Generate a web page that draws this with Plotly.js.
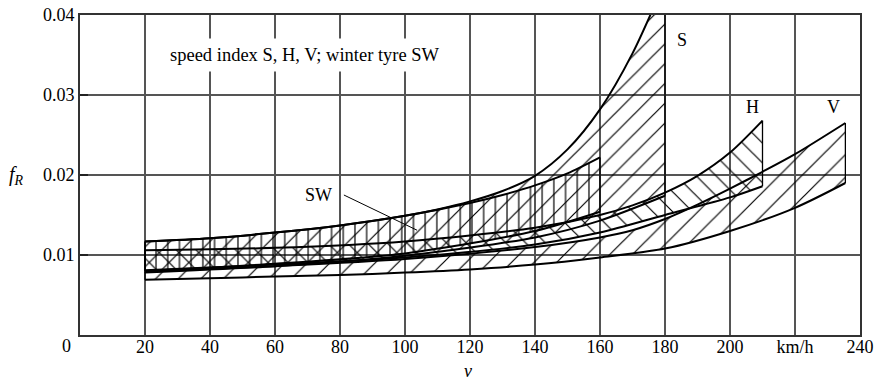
<!DOCTYPE html>
<html>
<head>
<meta charset="utf-8">
<script src="https://cdn.plot.ly/plotly-3.0.1.min.js"></script>
<style>html,body{margin:0;padding:0;background:#fff}#chart{width:878px;height:382px}</style>
</head>
<body>
<div id="chart"></div>
<script>
// ---- data (v in km/h, f_R) ----
const V_lo_v = [20, 40, 60, 80, 100, 120, 140, 160, 180, 200, 220, 235.5];
const V_lo_f = [0.0069, 0.0071, 0.0073, 0.0075, 0.0078, 0.0082, 0.0088, 0.0097, 0.0108, 0.0130, 0.0159, 0.0190];
const V_up_v = [20, 60, 100, 140, 160, 170, 180, 190, 200, 210, 220, 235.5];
const V_up_f = [0.0079, 0.0086, 0.0095, 0.0110, 0.0122, 0.0131, 0.0145, 0.0163, 0.0183, 0.0204, 0.0226, 0.0265];

const H_lo_v = [20, 60, 100, 140, 160, 180, 200, 210];
const H_lo_f = [0.0081, 0.0088, 0.0097, 0.0113, 0.0128, 0.0150, 0.0172, 0.0186];
const H_up_v = [20, 60, 100, 140, 160, 170, 180, 190, 200, 210];
const H_up_f = [0.0106, 0.0109, 0.0117, 0.0134, 0.0150, 0.0162, 0.0178, 0.0199, 0.0228, 0.0268];

const S_lo_v = [20, 60, 100, 140, 160, 180];
const S_lo_f = [0.0078, 0.0086, 0.0099, 0.0122, 0.0143, 0.0174];
const S_up_v = [20, 40, 60, 80, 100, 110, 120, 130, 140, 150, 160, 170, 180];
const S_up_f = [0.0117, 0.0121, 0.0128, 0.0137, 0.0149, 0.0157, 0.0167, 0.0180, 0.0199, 0.0232, 0.0282, 0.0352, 0.0442];

const SW_lo_v = [20, 60, 100, 140, 160];
const SW_lo_f = [0.0080, 0.0089, 0.0102, 0.0130, 0.0154];
const SW_up_v = [20, 40, 60, 80, 100, 120, 130, 140, 150, 160];
const SW_up_f = [0.0117, 0.0121, 0.0128, 0.0137, 0.0149, 0.0165, 0.0175, 0.0187, 0.0202, 0.0222];

const xTickVals = [20, 40, 60, 80, 100, 120, 140, 160, 180, 200, 220, 240];
const xTickText = ['20', '40', '60', '80', '100', '120', '140', '160', '180', '200', 'km/h', '240'];
const yTickVals = [0.01, 0.02, 0.03, 0.04];
const yTickText = ['0.01', '0.02', '0.03', '0.04'];

// ---- build traces ----
const FONT = 'Liberation Serif, Times New Roman, serif';
const traces = [];
function band(loV, loF, upV, upF, shape, size, clipTop) {
  traces.push({x: loV, y: loF, mode: 'lines', line: {color: '#000', width: 2, shape: 'spline', smoothing: 0.8},
    hoverinfo: 'skip', showlegend: false});
  traces.push({x: upV, y: upF, mode: 'lines', line: {color: '#000', width: 2, shape: 'spline', smoothing: 0.8},
    fill: 'tonexty', fillcolor: 'rgba(0,0,0,0)',
    fillpattern: {shape: shape, size: size, solidity: 1.2 / size, fgcolor: '#000', bgcolor: 'rgba(0,0,0,0)', fillmode: 'replace'},
    hoverinfo: 'skip', showlegend: false});
  const xe = loV[loV.length - 1];
  const yTop = clipTop ? clipTop : upF[upF.length - 1];
  traces.push({x: [xe, xe], y: [loF[loF.length - 1], yTop], mode: 'lines', line: {color: '#000', width: 1.3},
    hoverinfo: 'skip', showlegend: false});
  traces.push({x: [loV[0], upV[0]], y: [loF[0], upF[0]], mode: 'lines', line: {color: '#000', width: 1.3},
    hoverinfo: 'skip', showlegend: false});
}
band(V_lo_v, V_lo_f, V_up_v, V_up_f, '/', 16, null);
band(H_lo_v, H_lo_f, H_up_v, H_up_f, '\\', 14, null);
band(S_lo_v, S_lo_f, S_up_v, S_up_f, '/', 14, 0.04);
band(SW_lo_v, SW_lo_f, SW_up_v, SW_up_f, '|', 11.7, null);

function ann(xref, yref, x, y, text, size, extra) {
  return Object.assign({xref: xref, yref: yref, x: x, y: y, text: text, showarrow: false,
    xanchor: 'center', yanchor: 'middle', font: {family: FONT, size: size, color: '#000'}}, extra || {});
}

const layout = {
  width: 878, height: 382,
  margin: {l: 80, r: 18, t: 15, b: 47, pad: 0},
  paper_bgcolor: '#fff', plot_bgcolor: '#fff',
  font: {family: FONT, size: 18, color: '#000'},
  showlegend: false,
  xaxis: {
    range: [0, 240], tickvals: xTickVals, ticktext: xTickText,
    showgrid: true, gridcolor: '#555', gridwidth: 1.2,
    showline: true, linecolor: '#333', linewidth: 2, mirror: true,
    ticks: '', zeroline: false, ticklabelstandoff: -6,
    tickfont: {family: FONT, size: 18, color: '#000'}
  },
  yaxis: {
    range: [0, 0.04], tickvals: yTickVals, ticktext: yTickText,
    showgrid: true, gridcolor: '#555', gridwidth: 1.2,
    showline: true, linecolor: '#333', linewidth: 2, mirror: true,
    ticks: 'inside', ticklen: 8, tickcolor: '#222', tickwidth: 1.5,
    zeroline: false, tickfont: {family: FONT, size: 18, color: '#000'}
  },
  annotations: [
    ann('x', 'y', 69.2, 0.035, 'speed index S, H, V; winter tyre SW', 18.5, {bgcolor: '#fff', borderpad: 6}),
    ann('x', 'y', 185.2, 0.0369, 'S', 18),
    ann('x', 'y', 206.8, 0.0285, 'H', 18),
    ann('x', 'y', 231.7, 0.0285, 'V', 18),
    ann('x', 'y', 73.5, 0.0175, 'SW', 18),
    ann('paper', 'paper', -0.0167, -0.034, '0', 18),
    ann('paper', 'paper', -0.082, 0.497, '<i>f</i><sub><i>R</i></sub>', 20),
    ann('paper', 'paper', 0.497, -0.112, '<i>v</i>', 18)
  ],
  shapes: [
    {type: 'line', xref: 'x', yref: 'y', x0: 81.2, y0: 0.0175, x1: 103.7, y1: 0.0131, line: {color: '#000', width: 1}}
  ]
};

Plotly.newPlot('chart', traces, layout, {staticPlot: true, displayModeBar: false});
</script>
</body>
</html>
